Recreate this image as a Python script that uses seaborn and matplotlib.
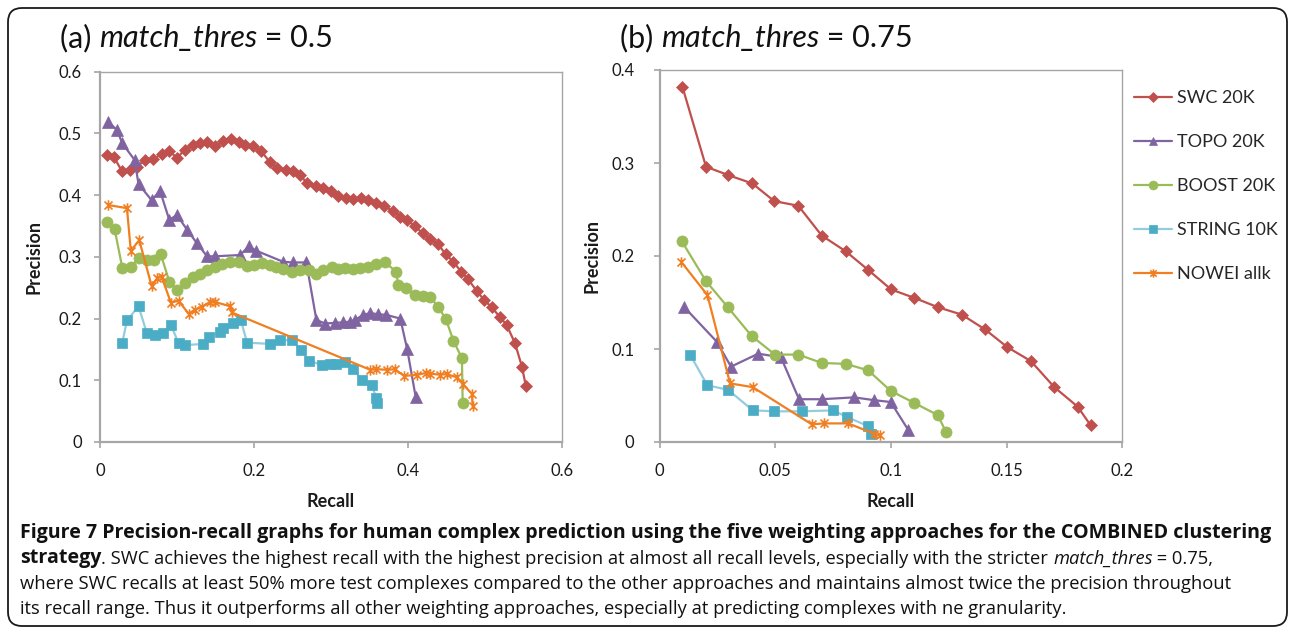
import numpy as np
import pandas as pd
import matplotlib
matplotlib.use("Agg")
import matplotlib.pyplot as plt
import seaborn as sns
from matplotlib.path import Path
from matplotlib.patches import FancyBboxPatch

sns.set_style("white")
plt.rcParams["font.family"] = ["Lato", "DejaVu Sans"]

W, H = 1293, 632

# ---------------- data: match_thres = 0.5 ----------------
swc_a_recall = [.009, .018, .028, .039, .048, .058, .069, .080, .090, .100, .110, .121, .130, .139,
                .149, .160, .170, .180, .188, .199, .209, .221, .230, .242, .250, .260, .269, .280,
                .290, .300, .309, .319, .329, .339, .348, .359, .369, .380, .390, .399, .409, .419,
                .429, .439, .449, .459, .469, .478, .489, .499, .509, .519, .528, .539, .548, .553]
swc_a_prec = [.465, .462, .440, .441, .446, .457, .458, .467, .472, .460, .474, .481, .484, .486,
              .479, .488, .491, .487, .482, .479, .472, .453, .444, .441, .440, .433, .419, .415,
              .411, .407, .399, .395, .394, .395, .392, .387, .382, .375, .365, .359, .350, .338,
              .329, .321, .304, .292, .276, .264, .245, .230, .218, .203, .190, .160, .122, .091]

topo_a_recall = [.011, .022, .029, .045, .050, .067, .078, .090, .100, .113, .126, .139, .149, .182,
                 .193, .203, .238, .251, .268, .281, .292, .305, .315, .325, .331, .342, .351, .361,
                 .372, .390, .399, .410]
topo_a_prec = [.518, .506, .484, .457, .418, .392, .407, .360, .368, .344, .322, .301, .301, .303,
               .317, .310, .292, .291, .291, .198, .192, .193, .194, .195, .198, .206, .209, .207,
               .206, .200, .150, .073]

boost_a_recall = [.009, .019, .029, .040, .051, .061, .070, .079, .090, .100, .110, .121, .130, .139,
                  .149, .158, .169, .180, .191, .200, .210, .221, .229, .238, .249, .260, .271, .281,
                  .290, .301, .309, .318, .328, .338, .348, .359, .370, .385, .387, .398, .409, .420,
                  .429, .439, .449, .459, .470, .471]
boost_a_prec = [.357, .345, .282, .284, .299, .295, .295, .304, .260, .247, .257, .268, .273, .279,
                .284, .288, .292, .292, .285, .287, .290, .287, .284, .281, .276, .279, .278, .273,
                .279, .284, .281, .282, .281, .282, .284, .288, .291, .276, .254, .249, .238, .236,
                .235, .219, .200, .164, .136, .064]

string_a_recall = [.029, .035, .050, .061, .071, .082, .092, .102, .110, .134, .141, .156, .160, .173,
                   .183, .191, .221, .234, .249, .261, .271, .288, .299, .307, .318, .329, .340, .353,
                   .359, .360]
string_a_prec = [.161, .197, .220, .176, .173, .177, .190, .160, .157, .159, .170, .179, .184, .193,
                 .197, .161, .159, .165, .165, .149, .132, .125, .127, .126, .130, .119, .100, .092,
                 .071, .063]

nowei_a_recall = [.011, .035, .040, .051, .067, .074, .080, .092, .102, .115, .123, .132, .143, .149,
                  .169, .171, .351, .359, .373, .383, .395, .412, .424, .429, .441, .450, .463, .471,
                  .483, .484]
nowei_a_prec = [.384, .379, .310, .327, .253, .265, .268, .226, .229, .208, .214, .219, .227, .227,
                .220, .210, .117, .118, .117, .118, .107, .109, .112, .111, .109, .110, .105, .094,
                .078, .058]

# ---------------- data: match_thres = 0.75 ----------------
swc_b_recall = [.0099, .0201, .0297, .0401, .0496, .0600, .0701, .0805, .0902, .1001, .1101, .1202,
                .1306, .1407, .1503, .1605, .1706, .1807, .1863]
swc_b_prec = [.382, .296, .287, .278, .259, .254, .222, .205, .185, .164, .155, .145, .137, .121,
              .102, .087, .059, .038, .018]

topo_b_recall = [.0107, .0247, .0309, .0427, .0525, .0603, .0701, .0841, .0927, .0999, .1075]
topo_b_prec = [.145, .108, .081, .095, .091, .046, .046, .048, .045, .043, .013]

boost_b_recall = [.0096, .0201, .0295, .0398, .0499, .0600, .0701, .0806, .0902, .0999, .1101,
                  .1202, .1238]
boost_b_prec = [.216, .173, .145, .114, .094, .094, .085, .084, .077, .055, .042, .029, .011]

string_b_recall = [.0132, .0207, .0297, .0403, .0496, .0614, .0751, .0809, .0902, .0913]
string_b_prec = [.094, .061, .056, .034, .033, .033, .034, .027, .017, .009]

nowei_b_recall = [.0093, .0207, .0305, .0403, .0658, .0711, .0816, .0926, .0953]
nowei_b_prec = [.194, .158, .063, .059, .019, .020, .020, .009, .007]

method_names = ["SWC 20K", "TOPO 20K", "BOOST 20K", "STRING 10K", "NOWEI allk"]
panel_a = [(swc_a_recall, swc_a_prec), (topo_a_recall, topo_a_prec), (boost_a_recall, boost_a_prec),
           (string_a_recall, string_a_prec), (nowei_a_recall, nowei_a_prec)]
panel_b = [(swc_b_recall, swc_b_prec), (topo_b_recall, topo_b_prec), (boost_b_recall, boost_b_prec),
           (string_b_recall, string_b_prec), (nowei_b_recall, nowei_b_prec)]

y_ticks_a = [0, 0.1, 0.2, 0.3, 0.4, 0.5, 0.6]
x_ticks_a = [0, 0.2, 0.4, 0.6]
y_ticks_b = [0, 0.1, 0.2, 0.3, 0.4]
x_ticks_b = [0, 0.05, 0.1, 0.15, 0.2]

# asterisk marker: an "x" crossed by a vertical bar
asterisk = Path([(-1, -1), (1, 1), (-1, 1), (1, -1), (0, -1.3), (0, 1.3)],
                [Path.MOVETO, Path.LINETO, Path.MOVETO, Path.LINETO, Path.MOVETO, Path.LINETO])

styles = {
    "SWC 20K": dict(color="#c0504d", marker="D", markersize=6.2, markerfacecolor="#c0504d",
                    markeredgecolor="#c0504d", markeredgewidth=0.5),
    "TOPO 20K": dict(color="#8064a2", marker="^", markersize=8, markerfacecolor="#8064a2",
                     markeredgecolor="#8064a2", markeredgewidth=0.5),
    "BOOST 20K": dict(color="#9bbb59", marker="o", markersize=8, markerfacecolor="#9bbb59",
                      markeredgecolor="#9bbb59", markeredgewidth=0.5),
    "STRING 10K": dict(color="#93cddd", marker="s", markersize=7, markerfacecolor="#4bacc6",
                       markeredgecolor="#4bacc6", markeredgewidth=0.5),
    "NOWEI allk": dict(color="#f07f22", marker=asterisk, markersize=7.5, markerfacecolor="none",
                       markeredgecolor="#f07f22", markeredgewidth=1.2),
}

fig = plt.figure(figsize=(W / 100, H / 100), dpi=100)


def px_axes(x0, y_top, x1, y_bot):
    return fig.add_axes([x0 / W, 1 - y_bot / H, (x1 - x0) / W, (y_bot - y_top) / H])


ax_a = px_axes(100, 71.8, 562, 442)
ax_b = px_axes(659.5, 70, 1122.3, 442)

for ax, panel in ((ax_a, panel_a), (ax_b, panel_b)):
    for name, (rec, prec) in zip(method_names, panel):
        df = pd.DataFrame({"Recall": rec, "Precision": prec})
        sns.lineplot(data=df, x="Recall", y="Precision", ax=ax, sort=False, estimator=None,
                     linewidth=1.6, label=name, **styles[name])
    if ax.get_legend() is not None:
        ax.get_legend().remove()

axis_grey = "#a6a6a6"
for ax, xt, yt, xmax, ymax in ((ax_a, x_ticks_a, y_ticks_a, 0.6, 0.6),
                               (ax_b, x_ticks_b, y_ticks_b, 0.2, 0.4)):
    ax.set_xlim(0, xmax)
    ax.set_ylim(0, ymax)
    ax.set_xticks(xt)
    ax.set_yticks(yt)
    ax.set_xticklabels(["0" if v == 0 else f"{v:g}" for v in xt])
    ax.set_yticklabels(["0" if v == 0 else f"{v:g}" for v in yt])
    for side, sp in ax.spines.items():
        sp.set_color(axis_grey)
        sp.set_linewidth(1.6 if side in ("left", "bottom") else 1.0)
    ax.tick_params(axis="both", direction="out", length=4, width=1.2, color=axis_grey,
                   labelsize=12, labelcolor="#1a1a1a", left=True, bottom=True)
    ax.tick_params(axis="x", pad=11)
    ax.set_xlabel("Recall", fontsize=13, fontweight="bold", color="#1a1a1a", labelpad=10)
    ax.set_ylabel("Precision", fontsize=13, fontweight="bold", color="#1a1a1a")
    ax.grid(False)

ax_a.tick_params(axis="y", pad=9)
ax_a.yaxis.labelpad = 12
ax_b.tick_params(axis="y", pad=14)
ax_b.yaxis.labelpad = 8

handles, labels = ax_b.get_legend_handles_labels()
fig.legend(handles, labels, loc="upper left", bbox_to_anchor=(1134 / W, 1 - 90 / H),
           frameon=False, fontsize=13, handlelength=2.1, handletextpad=0.3,
           labelspacing=1.55, borderpad=0, borderaxespad=0, numpoints=1, markerscale=0.8)

# ---------------- text runs (titles and caption) ----------------
renderer = fig.canvas.get_renderer()


def run_width(s, **kw):
    probe = fig.text(0, 0, "|" + s + "|", **kw)
    bar = fig.text(0, 0, "||", **kw)
    w = probe.get_window_extent(renderer).width - bar.get_window_extent(renderer).width
    probe.remove()
    bar.remove()
    return w


def draw_runs(x_px, y_px, runs, **common):
    x = x_px
    for s, extra in runs:
        kw = dict(common)
        kw.update(extra)
        fig.text(x / W, 1 - y_px / H, s, ha="left", va="baseline", **kw)
        x += run_width(s, **kw)


title_kw = dict(fontsize=22, family=["Lato", "DejaVu Sans"], color="#111111")
draw_runs(60, 47, [("(a) ", {}), ("match_thres", {"fontstyle": "italic"}), (" = 0.5", {})], **title_kw)
draw_runs(620, 47, [("(b) ", {}), ("match_thres", {"fontstyle": "italic"}), (" = 0.75", {})], **title_kw)

cap_family = ["Open Sans", "DejaVu Sans"]
heading = ("Figure 7 Precision-recall graphs for human complex prediction using the five weighting "
           "approaches for the COMBINED clustering")
ref_line = ("where SWC recalls at least 50% more test complexes compared to the other approaches and "
            "maintains almost twice the precision throughout")
ref_w = run_width(ref_line, fontsize=10, family=cap_family)
cap_size = 10 * (1232 - 20) / ref_w
head_w = run_width(heading, fontsize=10, family=cap_family, fontweight="bold")
head_size = 10 * (1278 - 20) / head_w
bold_run = {"fontweight": "bold", "fontsize": head_size}

cap_lines = [
    [(heading, bold_run)],
    [("strategy", bold_run),
     (". SWC achieves the highest recall with the highest precision at almost all recall levels, "
      "especially with the stricter ", {}),
     ("match_thres", {"fontstyle": "italic"}), (" = 0.75,", {})],
    [(ref_line, {})],
    [("its recall range. Thus it outperforms all other weighting approaches, especially at "
      "predicting complexes with ne granularity.", {})],
]
for i, runs in enumerate(cap_lines):
    draw_runs(20, 538 + 25.5 * i, runs, fontsize=cap_size, family=cap_family, color="#111111")

border = FancyBboxPatch((8 / 100, (H - 626) / 100), (1287 - 8) / 100, (626 - 8) / 100,
                        boxstyle="round,pad=0,rounding_size=0.14", transform=fig.dpi_scale_trans,
                        fill=False, edgecolor="#1a1a1a", linewidth=1.3)
fig.patches.append(border)

fig.savefig("out.png", dpi=100)
